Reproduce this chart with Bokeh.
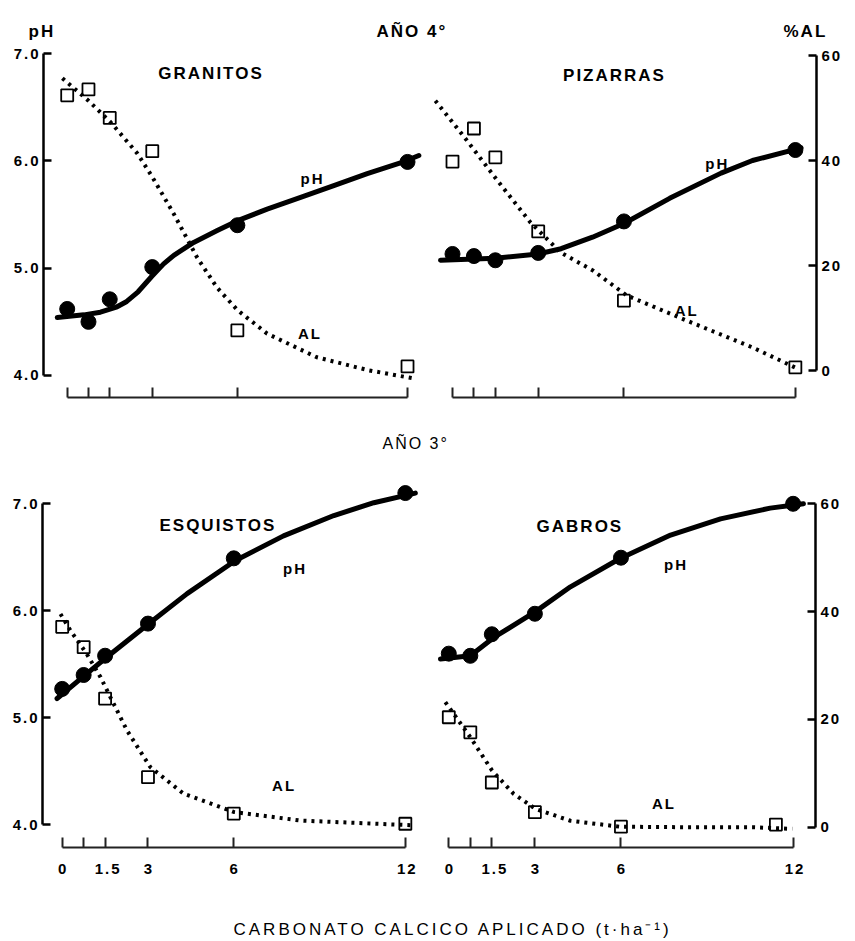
from bokeh.plotting import figure
from bokeh.models import (Range1d, LinearAxis, FixedTicker, Label,
                          InlineStyleSheet, NumeralTickFormatter)
from bokeh.layouts import column, row
from bokeh.embed import file_html
from bokeh.resources import INLINE

FONT = "Liberation Sans"

# ---------------- data ----------------
DOSE = [0, 0.75, 1.5, 3, 6, 12]            # t/ha CaCO3 applied
X_TICKS = [0, 0.75, 1.5, 3, 6, 12]
X_TICK_LABELS = ["0", "", "1.5", "3", "6", "12"]
PH_TICKS = [4, 5, 6, 7]
AL_TICKS = [0, 20, 40, 60]

# GRANITOS (AÑO 4º)
GR_PH = [4.62, 4.50, 4.71, 5.01, 5.40, 5.99]
GR_AL = [52.2, 53.3, 48.0, 41.8, 8.4, 1.7]
GR_AL_X = [0, 0.75, 1.5, 3, 6, 12]
GR_PH_CURVE_X = [-0.35, 0.59, 1.17, 1.76, 2.1, 2.5, 2.97, 3.4, 3.76, 4.46, 5.29, 5.99, 7.05, 8.23, 9.40, 10.58, 11.75, 12.40]
GR_PH_CURVE_Y = [4.54, 4.565, 4.59, 4.64, 4.69, 4.78, 4.92, 5.04, 5.12, 5.24, 5.35, 5.44, 5.55, 5.66, 5.77, 5.88, 5.98, 6.05]
GR_AL_CURVE_X = [-0.17, 0.75, 1.53, 2.47, 3.0, 3.75, 4.58, 5.28, 6.0, 7.05, 8.8, 10.6, 12.27]
GR_AL_CURVE_Y = [55.4, 51.2, 47.2, 41.4, 37.0, 30.2, 22.0, 16.4, 12.2, 7.8, 3.4, 1.0, -0.6]

# PIZARRAS (AÑO 4º)
PZ_PH = [5.11, 5.09, 5.05, 5.12, 5.42, 6.10]
PZ_AL = [39.8, 46.1, 40.6, 26.5, 13.3, 0.6]
PZ_AL_X = [0, 0.75, 1.5, 3, 6, 12]
PZ_PH_CURVE_X = [-0.42, 1.5, 3.0, 3.8, 4.9, 6.0, 7.6, 9.4, 10.5, 12.2]
PZ_PH_CURVE_Y = [5.05, 5.07, 5.11, 5.16, 5.27, 5.40, 5.64, 5.88, 6.00, 6.12]
PZ_AL_CURVE_X = [-0.6, 0.45, 1.57, 2.73, 3.78, 4.93, 6.1, 8.2, 10.5, 12.06]
PZ_AL_CURVE_Y = [51.4, 44.2, 36.2, 28.2, 22.5, 19.0, 14.3, 9.5, 4.4, 0.4]

# ESQUISTOS (AÑO 3º)
ES_PH = [5.27, 5.40, 5.58, 5.88, 6.49, 7.10]
ES_AL = [37.0, 33.2, 23.6, 8.9, 2.1, 0.2]
ES_AL_X = [0, 0.75, 1.5, 3, 6, 12]
ES_PH_CURVE_X = [-0.18, 0.85, 1.62, 3.08, 4.37, 6.06, 7.74, 9.5, 10.9, 12.35]
ES_PH_CURVE_Y = [5.18, 5.41, 5.58, 5.89, 6.16, 6.47, 6.70, 6.89, 7.01, 7.10]
ES_AL_CURVE_X = [-0.06, 0.29, 0.85, 1.34, 1.69, 2.27, 3.08, 4.25, 6.0, 8.33, 12.3]
ES_AL_CURVE_Y = [39.4, 36.3, 32.0, 27.6, 23.8, 17.6, 10.8, 5.8, 2.4, 0.8, -0.1]

# GABROS (AÑO 3º)
GB_PH = [5.61, 5.59, 5.79, 5.98, 6.50, 7.00]
GB_AL = [20.4, 17.6, 8.3, 2.8, 0.1, 0.5]
GB_AL_X = [0, 0.75, 1.5, 3, 6, 11.4]
GB_PH_CURVE_X = [-0.29, 0.75, 1.57, 3.02, 4.24, 5.95, 7.73, 9.47, 11.2, 12.36]
GB_PH_CURVE_Y = [5.56, 5.59, 5.76, 6.00, 6.23, 6.49, 6.71, 6.86, 6.96, 7.00]
GB_AL_CURVE_X = [-0.12, 0.75, 1.51, 2.26, 3.02, 4.24, 5.95, 8.3, 10.6, 11.97]
GB_AL_CURVE_Y = [23.2, 16.7, 10.5, 6.2, 3.4, 1.2, 0.1, 0.0, 0.0, -0.3]

HEADER_TEXTS = ["pH", "AÑO 4°", "%AL"]
MID_TEXT = "AÑO 3°"
CAPTION = "CARBONATO CALCICO APLICADO (t·ha⁻¹)"


def spacing_css(px):
    return [InlineStyleSheet(css=":host { letter-spacing: %spx; }" % px)]


def make_panel(title, ph, al, al_x, phc_x, phc_y, alc_x, alc_y, geom, side,
               show_x_labels, title_xy, ph_xy, al_xy):
    w, h, mbl, mbr, mbt, mbb, xr, yr = geom
    p = figure(width=w, height=h, x_range=Range1d(*xr), y_range=Range1d(*yr),
               x_axis_location=None, y_axis_location=None,
               output_backend="svg", toolbar_location=None,
               min_border_left=mbl, min_border_right=mbr,
               min_border_top=mbt, min_border_bottom=mbb,
               stylesheets=spacing_css(2))
    p.extra_y_ranges = {"al": Range1d((yr[0] - 4) * 20, (yr[1] - 4) * 20)}
    p.outline_line_color = None
    p.grid.grid_line_color = None
    p.background_fill_color = "white"
    p.border_fill_color = "white"

    labels = X_TICK_LABELS if show_x_labels else [""] * len(X_TICKS)
    xa = LinearAxis(ticker=FixedTicker(ticks=X_TICKS), bounds=(0, 12),
                    major_label_overrides={t: s for t, s in zip(X_TICKS, labels)},
                    major_tick_in=10, major_tick_out=0,
                    minor_tick_in=0, minor_tick_out=0,
                    axis_line_width=2, major_tick_line_width=2,
                    axis_line_color="#222222", major_tick_line_color="#222222",
                    major_label_standoff=16 if show_x_labels else 0,
                    major_label_text_font=FONT,
                    major_label_text_font_style="bold",
                    major_label_text_font_size="15px",
                    major_label_text_color="black")
    p.add_layout(xa, "below")

    if side == "left":
        ya = LinearAxis(ticker=FixedTicker(ticks=PH_TICKS), bounds=(4, 7),
                        formatter=NumeralTickFormatter(format="0.0"),
                        major_label_standoff=9)
    else:
        ya = LinearAxis(y_range_name="al", ticker=FixedTicker(ticks=AL_TICKS),
                        bounds=(0, 60), major_label_standoff=5)
    ya.major_tick_in = 8
    ya.major_tick_out = 0
    ya.minor_tick_in = 0
    ya.minor_tick_out = 0
    ya.axis_line_width = 2.5
    ya.major_tick_line_width = 2.5
    ya.major_label_text_font = FONT
    ya.major_label_text_font_style = "bold"
    ya.major_label_text_font_size = "15px"
    ya.major_label_text_color = "black"
    p.add_layout(ya, side)

    p.line(alc_x, alc_y, y_range_name="al", line_color="black",
           line_width=4, line_dash="3 5")
    p.line(phc_x, phc_y, line_color="black", line_width=5,
           line_join="round", line_cap="round")
    p.scatter(al_x, al, y_range_name="al", marker="square", size=12,
              fill_color=None, line_color="black", line_width=1.8)
    p.scatter(DOSE, ph, marker="circle", size=15,
              fill_color="black", line_color="black")

    for text, (x, y), size in [(title, title_xy, "17px"), ("pH", ph_xy, "15px"),
                               ("AL", al_xy, "15px")]:
        p.add_layout(Label(x=x, y=y, text=text, text_font=FONT,
                           text_font_style="bold", text_font_size=size,
                           text_align="center", text_baseline="alphabetic",
                           text_color="black"))
    return p


def make_strip(w, h, items, spacing):
    s = figure(width=w, height=h, x_range=Range1d(0, w), y_range=Range1d(h, 0),
               x_axis_location=None, y_axis_location=None,
               output_backend="svg", toolbar_location=None, min_border=0,
               stylesheets=spacing_css(spacing))
    s.outline_line_color = None
    s.grid.grid_line_color = None
    for text, x, y, size, style in items:
        s.add_layout(Label(x=x, y=y, text=text, text_font=FONT,
                           text_font_style=style, text_font_size=size,
                           text_align="left", text_baseline="alphabetic",
                           text_color="black"))
    return s


# geometry: width, height, min borders (l, r, t, b), x range, y range (pH units)
G_TL = (430, 380, 43, 2, 4, 23, (-0.836, 12.74), (3.795, 7.084))
G_TR = (424, 380, 2, 38, 4, 23, (-0.70, 12.74), (3.743, 7.105))
G_BL = (430, 418, 42, 2, 10, 45, (-0.689, 12.81), (3.788, 7.180))
G_BR = (424, 418, 2, 39, 10, 45, (-0.568, 12.78), (3.812, 7.179))

tl = make_panel("GRANITOS", GR_PH, GR_AL, GR_AL_X, GR_PH_CURVE_X, GR_PH_CURVE_Y,
                GR_AL_CURVE_X, GR_AL_CURVE_Y, G_TL, "left", False,
                (4.79, 6.814), (8.58, 5.835), (8.49, 4.391))
tr = make_panel("PIZARRAS", PZ_PH, PZ_AL, PZ_AL_X, PZ_PH_CURVE_X, PZ_PH_CURVE_Y,
                PZ_AL_CURVE_X, PZ_AL_CURVE_Y, G_TR, "right", False,
                (5.39, 6.81), (9.20, 5.971), (8.13, 4.571))
bl = make_panel("ESQUISTOS", ES_PH, ES_AL, ES_AL_X, ES_PH_CURVE_X, ES_PH_CURVE_Y,
                ES_AL_CURVE_X, ES_AL_CURVE_Y, G_BL, "left", True,
                (5.13, 6.797), (8.07, 6.396), (7.69, 4.367))
br = make_panel("GABROS", GB_PH, GB_AL, GB_AL_X, GB_PH_CURVE_X, GB_PH_CURVE_Y,
                GB_AL_CURVE_X, GB_AL_CURVE_Y, G_BR, "right", True,
                (4.36, 6.789), (7.85, 6.435), (7.43, 4.22))

header = make_strip(854, 40, [(HEADER_TEXTS[0], 28, 31, "17px", "bold"),
                              (HEADER_TEXTS[1], 376, 31, "17px", "bold"),
                              (HEADER_TEXTS[2], 783, 31, "17px", "bold")], 2)
mid = make_strip(854, 54, [(MID_TEXT, 382, 23, "16px", "normal")], 2)
caption = make_strip(854, 48, [(CAPTION, 233, 37, "17px", "normal")], 3)

layout = column(header, row(tl, tr), mid, row(bl, br), caption)

open("out.html", "w").write(file_html(layout, INLINE))
